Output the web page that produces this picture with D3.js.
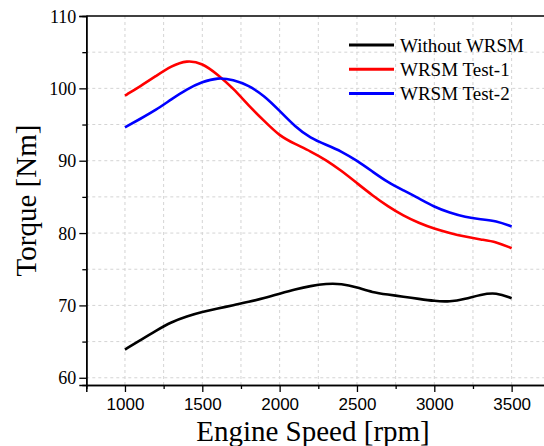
<!DOCTYPE html>
<html><head><meta charset="utf-8">
<script src="https://cdn.jsdelivr.net/npm/d3@7"></script>
<style>html,body{margin:0;padding:0;background:#fff;overflow:hidden}</style>
</head><body>
<svg id="c" width="544" height="446"></svg>
<script>
const rpm = [1000,1100,1200,1300,1400,1500,1600,1700,1800,1900,2000,2100,2200,2300,2400,2500,2600,2700,2800,2900,3000,3100,3200,3300,3400,3500];
const withoutWRSM = [63.9,65.2,66.5,67.7,68.5,69.1,69.6,70.0,70.5,71.0,71.6,72.2,72.7,73.0,73.0,72.5,71.8,71.5,71.2,70.9,70.6,70.5,70.9,71.5,71.8,71.0];
const wrsmTest1 = [99.0,100.3,101.7,103.1,103.9,103.5,101.9,100.0,97.6,95.5,93.4,92.3,91.3,90.1,88.6,86.9,85.2,83.7,82.4,81.4,80.6,80.0,79.5,79.1,78.8,77.9];
const wrsmTest2 = [94.6,95.8,97.0,98.5,99.9,100.9,101.5,101.2,100.4,99.0,96.9,94.7,93.1,92.2,91.3,90.0,88.5,87.0,85.9,84.8,83.6,82.8,82.2,81.9,81.7,80.9];
const seriesNames = ["Without WRSM","WRSM Test-1","WRSM Test-2"];
const seriesColors = ["#000000","#ff0000","#0000ff"];
const xTicks = [1000,1500,2000,2500,3000,3500];
const xMinor = [1250,1750,2250,2750,3250];
const yTicks = [60,70,80,90,100,110];
const yMinor = [65,75,85,95,105];

const svg = d3.select("#c");
const L = 86.3, R = 550.3, T = 16, B = 385;
const x = d3.scaleLinear().domain([750,3750]).range([L,R]);
const y = d3.scaleLinear().domain([59,110]).range([B,T]);

// grid
const grid = svg.append("g").attr("stroke","#d4d4d4").attr("stroke-width",1).attr("stroke-dasharray","3,3");
xTicks.concat(xMinor).forEach(v=>grid.append("line").attr("x1",x(v)).attr("x2",x(v)).attr("y1",T).attr("y2",B));
yTicks.concat(yMinor).filter(v=>v<110).forEach(v=>grid.append("line").attr("x1",L).attr("x2",R).attr("y1",y(v)).attr("y2",y(v)));

// frame
svg.append("line").attr("x1",L).attr("x2",R).attr("y1",T).attr("y2",T).attr("stroke","#000").attr("stroke-width",1.5);
svg.append("line").attr("x1",R).attr("x2",R).attr("y1",T).attr("y2",B).attr("stroke","#000").attr("stroke-width",1.5);

// axes
const xAxis = svg.append("g").attr("transform",`translate(0,${B})`)
  .call(d3.axisBottom(x).tickValues(xTicks).tickSize(7).tickPadding(6).tickFormat(d3.format("d")));
const xMin = svg.append("g").attr("transform",`translate(0,${B})`)
  .call(d3.axisBottom(x).tickValues(xMinor).tickSize(4).tickFormat(""));
const yAxis = svg.append("g").attr("transform",`translate(${L},0)`)
  .call(d3.axisLeft(y).tickValues(yTicks).tickSize(7).tickPadding(3).tickFormat(d3.format("d")));
const yMin = svg.append("g").attr("transform",`translate(${L},0)`)
  .call(d3.axisLeft(y).tickValues(yMinor).tickSize(4).tickFormat(""));
[xAxis,xMin,yAxis,yMin].forEach(g=>{
  g.select(".domain").attr("stroke","#000").attr("stroke-width",1.5);
  g.selectAll(".tick line").attr("stroke","#000").attr("stroke-width",1.3);
});
xAxis.selectAll("text").attr("font-family","Liberation Sans, Arial, sans-serif").attr("font-size",17).attr("fill","#000");
yAxis.selectAll("text").attr("font-family","Liberation Serif, Times New Roman, serif").attr("font-size",18).attr("fill","#000").attr("dy","0.34em");

// titles
svg.append("text").attr("x",313).attr("y",441).attr("text-anchor","middle")
  .attr("font-family","Liberation Serif, Times New Roman, serif").attr("font-size",29).text("Engine Speed [rpm]");
svg.append("text").attr("transform",`translate(36,${(T+B)/2}) rotate(-90)`).attr("text-anchor","middle")
  .attr("font-family","Liberation Serif, Times New Roman, serif").attr("font-size",29).text("Torque [Nm]");

// lines
const data = [withoutWRSM, wrsmTest1, wrsmTest2];
const line = d3.line().x((d,i)=>x(rpm[i])).y(d=>y(d)).curve(d3.curveBasis);
data.forEach((s,k)=>{
  svg.append("path").datum(s).attr("d",line).attr("fill","none")
    .attr("stroke",seriesColors[k]).attr("stroke-width",2.6).attr("stroke-linejoin","round");
});

// legend
const lg = svg.append("g");
seriesNames.forEach((n,k)=>{
  const yy = 45 + k*24.2;
  lg.append("line").attr("x1",349).attr("x2",394).attr("y1",yy).attr("y2",yy)
    .attr("stroke",seriesColors[k]).attr("stroke-width",3);
  lg.append("text").attr("x",400).attr("y",yy+6.5)
    .attr("font-family","Liberation Serif, Times New Roman, serif").attr("font-size",19).text(n);
});
</script>
</body></html>
